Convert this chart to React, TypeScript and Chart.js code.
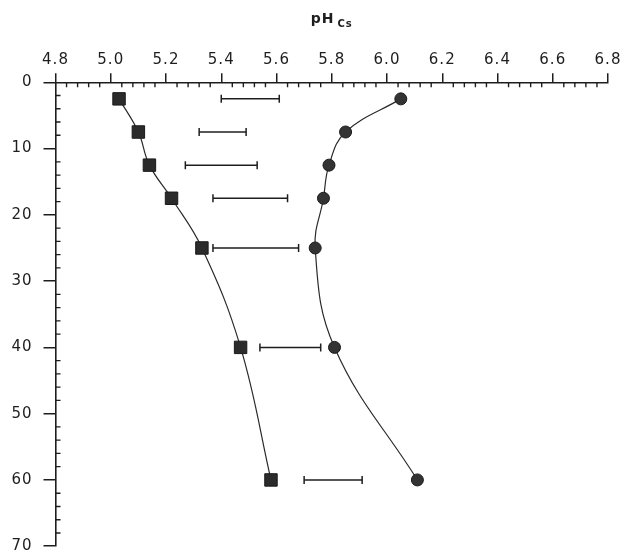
import React, { useEffect, useRef } from "react";
import { Chart, registerables } from "chart.js";

Chart.register(...registerables);

// depth (cm) at which values were measured
const depths = [2.5, 7.5, 12.5, 17.5, 25, 40, 60];
// pH (CaCl2) – square series
const squareSeries = [5.03, 5.1, 5.14, 5.22, 5.33, 5.47, 5.58];
// pH (CaCl2) – circle series
const circleSeries = [6.05, 5.85, 5.79, 5.77, 5.74, 5.81, 6.11];
// horizontal error bars (low / high ends)
const barLow = [5.4, 5.32, 5.27, 5.37, 5.37, 5.54, 5.7];
const barHigh = [5.61, 5.49, 5.53, 5.64, 5.68, 5.76, 5.91];
// tick labels
const xTickValues = [4.8, 5.0, 5.2, 5.4, 5.6, 5.8, 6.0, 6.2, 6.4, 6.6, 6.8];
const yTickValues = [0, 10, 20, 30, 40, 50, 60, 70];
const xMinorStep = 0.04;
const yMinorStep = 2;

const INK = "#1e1e1e";
const LABEL_FONT = { family: "'DejaVu Sans', sans-serif", size: 15 };

const spacing = {
  id: "spacing",
  beforeDraw(chart: any) {
    try {
      (chart.ctx as any).letterSpacing = "1px";
    } catch (e) {}
  },
};

const minorTicks = {
  id: "minorTicks",
  afterDraw(chart: any) {
    const { ctx, chartArea, scales } = chart;
    const xs = scales.x;
    const ys = scales.y;
    ctx.save();
    ctx.strokeStyle = INK;
    ctx.lineWidth = 1.4;
    ctx.beginPath();
    const x0 = xTickValues[0];
    const x1 = xTickValues[xTickValues.length - 1];
    const nx = Math.round((x1 - x0) / xMinorStep);
    for (let i = 0; i <= nx; i++) {
      if (i % 5 === 0) continue;
      const px = xs.getPixelForValue(x0 + i * xMinorStep);
      ctx.moveTo(px, chartArea.top);
      ctx.lineTo(px, chartArea.top + 5);
    }
    const y0 = yTickValues[0];
    const y1 = yTickValues[yTickValues.length - 1];
    const ny = Math.round((y1 - y0) / yMinorStep);
    for (let i = 0; i <= ny; i++) {
      if (i % 5 === 0) continue;
      const py = ys.getPixelForValue(y0 + i * yMinorStep);
      ctx.moveTo(chartArea.left, py);
      ctx.lineTo(chartArea.left + 5, py);
    }
    ctx.stroke();
    ctx.restore();
  },
};

const subTitle = {
  id: "subTitle",
  afterDraw(chart: any) {
    const { ctx, chartArea } = chart;
    ctx.save();
    ctx.fillStyle = INK;
    ctx.textBaseline = "alphabetic";
    ctx.textAlign = "left";
    ctx.font = "bold 14px 'DejaVu Sans', sans-serif";
    const main = "pH";
    const sub = "Cs";
    const wMain = ctx.measureText(main).width;
    ctx.font = "bold 10px 'DejaVu Sans', sans-serif";
    const wSub = ctx.measureText(sub).width;
    const gap = 3;
    const total = wMain + gap + wSub;
    const cx = (chartArea.left + chartArea.right) / 2;
    const startX = cx - total / 2;
    ctx.font = "bold 14px 'DejaVu Sans', sans-serif";
    ctx.fillText(main, startX, 22.5);
    ctx.font = "bold 10px 'DejaVu Sans', sans-serif";
    ctx.fillText(sub, startX + wMain + gap, 27);
    ctx.restore();
  },
};

export default function App() {
  const ref = useRef<HTMLCanvasElement>(null);

  useEffect(() => {
    if (!ref.current) return;
    const errorSets = depths.map((d, i) => ({
      label: "range " + d,
      data: [
        { x: barLow[i], y: d },
        { x: barHigh[i], y: d },
      ],
      showLine: true,
      borderColor: INK,
      borderWidth: 1.5,
      pointStyle: "line",
      rotation: 90,
      pointRadius: 4,
      pointBorderColor: INK,
      pointBorderWidth: 1.5,
      tension: 0,
    }));

    const chart = new Chart(ref.current, {
      type: "scatter",
      data: {
        datasets: [
          {
            label: "squares",
            data: depths.map((d, i) => ({ x: squareSeries[i], y: d })),
            showLine: true,
            tension: 0.4,
            borderColor: "#2a2a2a",
            borderWidth: 1.2,
            pointStyle: "rect",
            pointRadius: 8.8,
            pointBackgroundColor: "#2b2b2b",
            pointBorderColor: "#1a1a1a",
            pointBorderWidth: 1,
          },
          {
            label: "circles",
            data: depths.map((d, i) => ({ x: circleSeries[i], y: d })),
            showLine: true,
            tension: 0.4,
            borderColor: "#2a2a2a",
            borderWidth: 1.2,
            pointStyle: "circle",
            pointRadius: 6,
            pointBackgroundColor: "#333333",
            pointBorderColor: "#1a1a1a",
            pointBorderWidth: 1,
          },
          ...errorSets,
        ] as any,
      },
      options: {
        responsive: false,
        animation: false,
        events: [],
        layout: { padding: { top: 0, left: 0, right: 14, bottom: 7.7 } },
        plugins: {
          legend: { display: false },
          tooltip: { enabled: false },
          title: { display: false },
        },
        scales: {
          x: {
            type: "linear",
            position: "top",
            min: xTickValues[0],
            max: xTickValues[xTickValues.length - 1],
            afterBuildTicks: (s: any) => {
              s.ticks = xTickValues.map((v) => ({ value: v }));
            },
            afterFit: (s: any) => {
              s.height = 82.3;
              s.paddingLeft = 0;
              s.paddingRight = 0;
            },
            ticks: {
              callback: (v: any) => Number(v).toFixed(1),
              font: LABEL_FONT,
              color: INK,
              padding: 4,
              maxRotation: 0,
              autoSkip: false,
            },
            grid: {
              drawOnChartArea: false,
              drawTicks: true,
              tickLength: 9,
              color: INK,
              lineWidth: 1.5,
            },
            border: { display: true, color: INK, width: 1.6 },
          },
          y: {
            type: "linear",
            position: "left",
            reverse: true,
            min: yTickValues[0],
            max: yTickValues[yTickValues.length - 1],
            afterBuildTicks: (s: any) => {
              s.ticks = yTickValues.map((v) => ({ value: v }));
            },
            afterFit: (s: any) => {
              s.width = 55.5;
              s.paddingTop = 0;
              s.paddingBottom = 0;
            },
            ticks: {
              font: LABEL_FONT,
              color: INK,
              padding: 11,
              autoSkip: false,
            },
            grid: {
              drawOnChartArea: false,
              drawTicks: true,
              tickLength: 12,
              color: INK,
              lineWidth: 1.5,
            },
            border: { display: true, color: INK, width: 1.6 },
          },
        },
      } as any,
      plugins: [spacing, minorTicks, subTitle],
    });
    return () => chart.destroy();
  }, []);

  return (
    <div style={{ position: "fixed", left: 0, top: 0, width: 622, height: 556, background: "#fff" }}>
      <canvas ref={ref} width={622} height={556} />
    </div>
  );
}
